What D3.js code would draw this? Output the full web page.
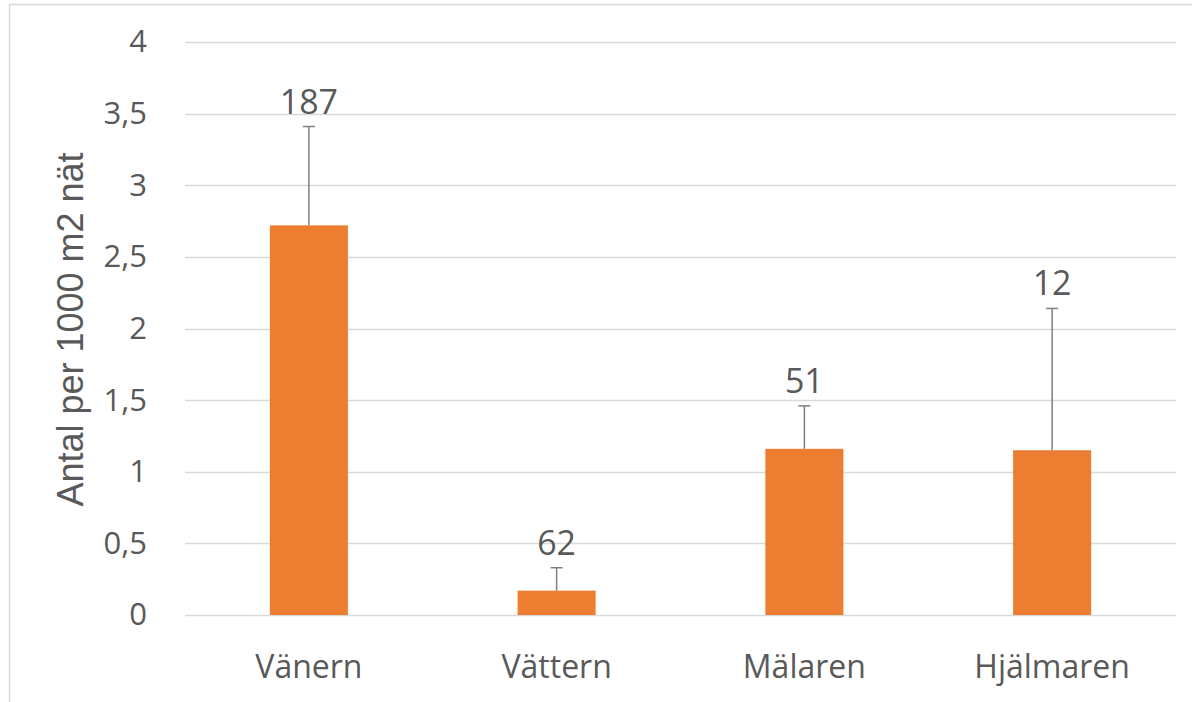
<!DOCTYPE html>
<html>
<head>
<meta charset="utf-8">
<script src="https://cdn.jsdelivr.net/npm/d3@7"></script>
<style>
  html, body { margin: 0; padding: 0; background: #fff; }
  svg { display: block; }
  text { font-family: "Open Sans", "Noto Sans", sans-serif; fill: #595959; }
</style>
</head>
<body>
<svg id="chart" width="1192" height="702"></svg>
<script>
const categories = ["Vänern", "Vättern", "Mälaren", "Hjälmaren"];
const means = [2.72, 0.17, 1.16, 1.15];
const errorPlus = [0.69, 0.16, 0.30, 0.99];
const counts = [187, 62, 51, 12];
const yTicks = [0, 0.5, 1, 1.5, 2, 2.5, 3, 3.5, 4];
const yTitle = "Antal per 1000 m2 nät";

const W = 1192, H = 702;
const margin = { left: 185, right: 16, top: 42, bottom: 87 };
const svg = d3.select("#chart");

// outer frame (top and left edges visible)
svg.append("rect")
  .attr("x", 9.5).attr("y", 4.5)
  .attr("width", W).attr("height", H + 10)
  .attr("fill", "none").attr("stroke", "#d9d9d9").attr("stroke-width", 1.5);

const x = d3.scaleBand().domain(categories)
  .range([margin.left, W - margin.right]).paddingInner(0.685).paddingOuter(0.3425);
const y = d3.scaleLinear().domain([0, 4]).range([H - margin.bottom, margin.top]);

// gridlines
svg.append("g").selectAll("line").data(yTicks).join("line")
  .attr("x1", margin.left).attr("x2", W - margin.right)
  .attr("y1", d => Math.round(y(d)) + 0.5).attr("y2", d => Math.round(y(d)) + 0.5)
  .attr("stroke", "#d9d9d9").attr("stroke-width", 1.5);

// y axis labels
const fmt = d => String(d).replace(".", ",");
const yAxis = d3.axisLeft(y).tickValues(yTicks).tickFormat(fmt).tickSize(0).tickPadding(0);
const gy = svg.append("g").attr("transform", `translate(${margin.left - 38},0)`).call(yAxis);
gy.select(".domain").remove();
gy.selectAll("text").style("font-size", "31px").attr("fill", "#595959")
  .style("font-family", '"Open Sans", sans-serif');

// x axis labels
const xAxis = d3.axisBottom(x).tickSize(0).tickPadding(0);
const gx = svg.append("g").attr("transform", `translate(0,${y(0)})`).call(xAxis);
gx.select(".domain").remove();
gx.selectAll("text").attr("y", 63).attr("dy", 0)
  .style("font-size", "32px").attr("fill", "#595959")
  .style("font-family", '"Open Sans", sans-serif');

const data = categories.map((c, i) => ({ c, v: means[i], e: errorPlus[i], n: counts[i] }));

// bars
svg.append("g").selectAll("rect").data(data).join("rect")
  .attr("x", d => x(d.c)).attr("width", x.bandwidth())
  .attr("y", d => y(d.v)).attr("height", d => y(0) - y(d.v))
  .attr("fill", "#ED7D31");

// error bars (plus only)
const eb = svg.append("g").attr("stroke", "#7f7f7f").attr("stroke-width", 1.5);
eb.selectAll("line.v").data(data).join("line").attr("class", "v")
  .attr("x1", d => x(d.c) + x.bandwidth() / 2).attr("x2", d => x(d.c) + x.bandwidth() / 2)
  .attr("y1", d => y(d.v)).attr("y2", d => y(d.v + d.e));
eb.selectAll("line.cap").data(data).join("line").attr("class", "cap")
  .attr("x1", d => x(d.c) + x.bandwidth() / 2 - 6).attr("x2", d => x(d.c) + x.bandwidth() / 2 + 6)
  .attr("y1", d => y(d.v + d.e)).attr("y2", d => y(d.v + d.e));

// count labels
svg.append("g").selectAll("text").data(data).join("text")
  .attr("x", d => x(d.c) + x.bandwidth() / 2)
  .attr("y", d => y(d.v + d.e) - 13)
  .attr("text-anchor", "middle")
  .style("font-size", "34px")
  .text(d => d.n);

// y title
svg.append("text")
  .attr("transform", `translate(83,${(y(0) + y(4)) / 2 + 1}) rotate(-90)`)
  .attr("text-anchor", "middle")
  .style("font-family", '"Liberation Sans", Arial, sans-serif')
  .style("font-size", "36px")
  .text(yTitle);
</script>
</body>
</html>
